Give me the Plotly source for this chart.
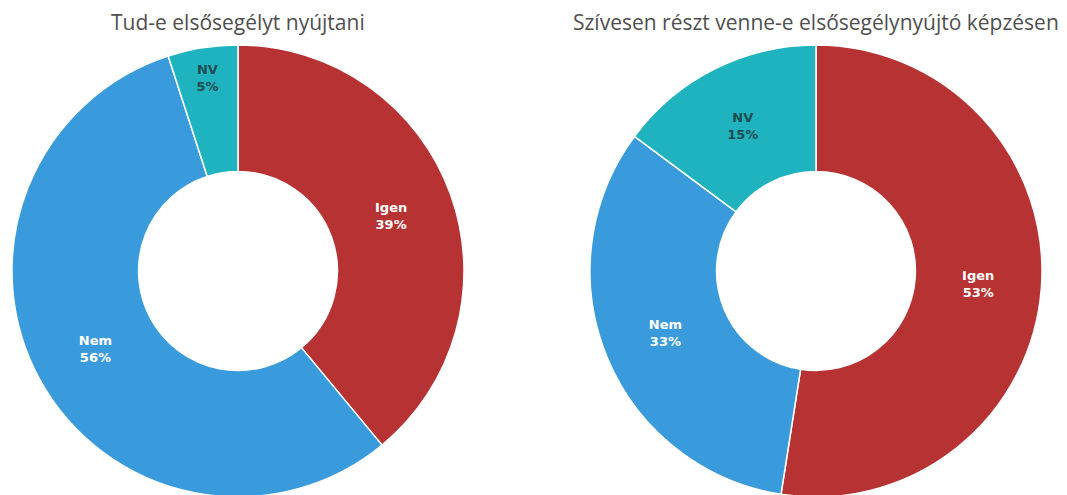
import plotly.graph_objects as go

labels = ["Igen", "Nem", "NV"]
left_values = [39, 56, 5]
right_values = [53, 33, 15]
titles = ["Tud-e elsősegélyt nyújtani", "Szívesen részt venne-e elsősegélynyújtó képzésen"]
colors = ["#B73333", "#3A9BDC", "#1FB3BF"]
text_colors = ["#FFFFFF", "#FFFFFF", "#1E4C50"]

W, H = 1067, 495
OFF = 8  # page body margin offset
T = 37
ph = H - T
domains = [[(12 - OFF) / W, (464 - OFF) / W], [(590 - OFF) / W, (1042 - OFF) / W]]
ydom = [(H - (497 - OFF)) / ph if H > (497 - OFF) else 0, 1]

fig = go.Figure()
for vals, dom in zip([left_values, right_values], domains):
    fig.add_trace(go.Pie(
        labels=labels,
        values=vals,
        hole=0.44,
        sort=False,
        direction="clockwise",
        rotation=0,
        marker=dict(colors=colors, line=dict(color="white", width=1.5)),
        texttemplate="<b>%{label}<br>%{value}%</b>",
        textinfo="text",
        textposition="inside",
        insidetextorientation="horizontal",
        textfont=dict(family="DejaVu Sans", size=13, color=text_colors),
        domain=dict(x=dom, y=ydom),
        showlegend=False,
        hoverinfo="label+value",
    ))

annotations = []
for t, dom in zip(titles, domains):
    annotations.append(dict(
        text=t, x=(dom[0] + dom[1]) / 2, xref="paper",
        y=1 + (T - (22 - OFF)) / ph, yref="paper",
        showarrow=False, font=dict(family="Open Sans, Roboto, Arial", size=21, color="#4F4F4F"),
        xanchor="center", yanchor="middle",
    ))

fig.update_layout(
    width=W, height=H,
    margin=dict(l=0, r=0, t=T, b=0),
    paper_bgcolor="white",
    plot_bgcolor="white",
    annotations=annotations,
)

fig.write_html("out.html")
